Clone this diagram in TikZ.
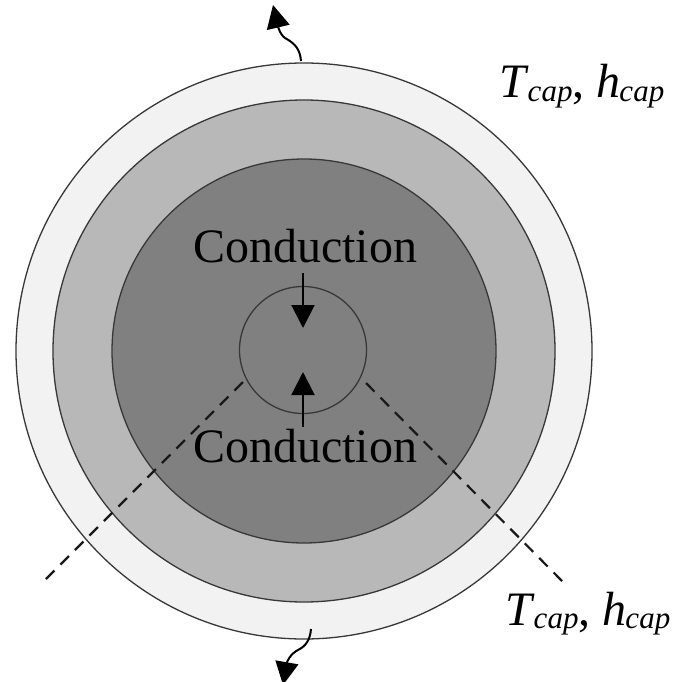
\documentclass[tikz,border=0pt]{standalone}
\usepackage{fontspec}
\setmainfont{Liberation Serif}
\usetikzlibrary{arrows.meta}
\definecolor{ringa}{gray}{0.95}
\definecolor{ringb}{gray}{0.72}
\definecolor{ringc}{gray}{0.50}
\definecolor{linec}{gray}{0.22}
\newcommand{\capsub}[1]{\textit{#1}\kern-1pt\raisebox{-3.5pt}{\fontsize{31}{34}\selectfont\textit{cap}}}
\tikzset{
  x=1pt,y=-1pt,
  ring/.style={circle,draw=linec,line width=1.3pt,inner sep=0pt,outer sep=0pt},
  lab/.style={font=\fontsize{48}{52}\selectfont,inner sep=0pt,anchor=base,text=black},
  tcap/.style={font=\fontsize{48}{52}\selectfont,inner sep=0pt,anchor=base west,text=black},
  arr/.style={-{Triangle[length=23pt,width=23pt]},line width=2pt,black},
  dashline/.style={dash pattern=on 12pt off 8.5pt,line width=2.2pt,black!90}
}
\begin{document}
\begin{tikzpicture}
\useasboundingbox (0,0) rectangle (674,682);
\clip (0,0) rectangle (674,682);
\node[ring,fill=ringa,minimum size=576pt] (outer) at (304,351) {};
\node[ring,fill=ringb,minimum size=502pt] (mid) at (304,351) {};
\node[ring,fill=ringc,minimum size=384pt] (inner) at (304,351) {};
\node[ring,minimum size=127pt] (core) at (303,350) {};
\node[lab] (c1) at (305,262) {Conduction};
\node[lab] (c2) at (305,462) {Conduction};
\coordinate (a1s) at (303,273);
\coordinate (a1e) at (303,328);
\coordinate (a2s) at (303,427);
\coordinate (a2e) at (303,372);
\draw[arr] (a1s) -- (a1e);
\draw[arr] (a2s) -- (a2e);
\coordinate (dl1) at (243,382);
\coordinate (dl2) at (46,579);
\coordinate (dr1) at (365,382);
\coordinate (dr2) at (562,581);
\draw[dashline] (dl2) -- (dl1);
\draw[dashline] (dr2) -- (dr1);
\coordinate (t1) at (301,61);
\coordinate (tm) at (285,38);
\coordinate (t2) at (273,5);
\draw[arr] (t1) .. controls (300,50) and (296,44) .. (tm) .. controls (279,34) and (277,22) .. (t2);
\coordinate (b1) at (311,629);
\coordinate (bm) at (298,650);
\coordinate (b2) at (283,685);
\draw[arr] (b1) .. controls (310,640) and (306,646) .. (bm) .. controls (290,654) and (287,662) .. (b2);
\node[tcap] (t3) at (499,98) {\capsub{T}, \capsub{h}};
\node[tcap] (t4) at (505,625) {\capsub{T}, \capsub{h}};
\end{tikzpicture}
\end{document}
